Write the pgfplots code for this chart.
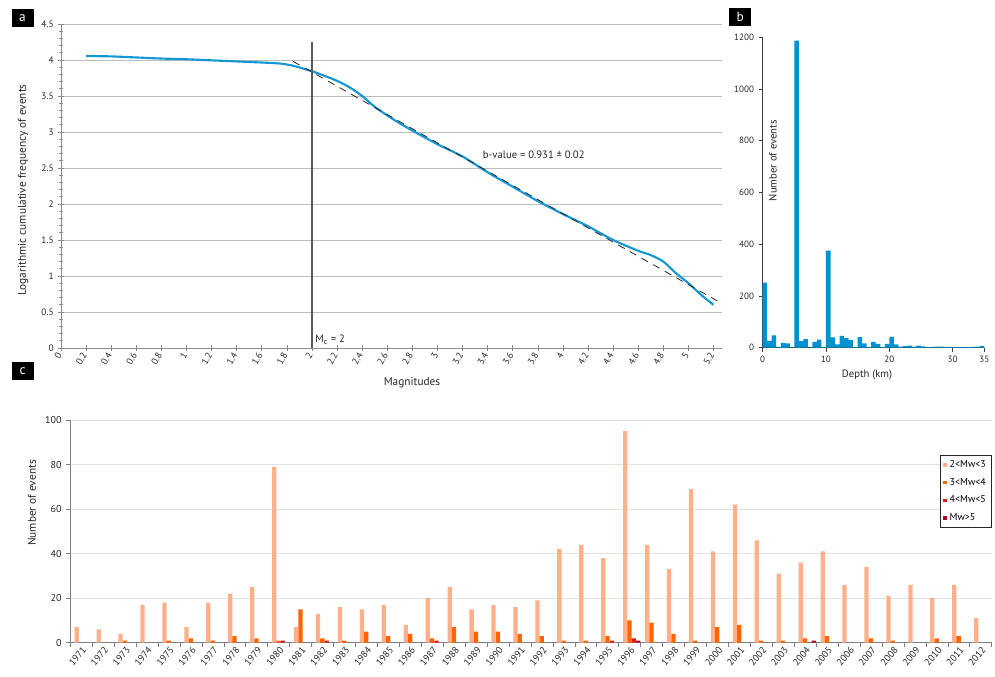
\documentclass[border=0pt]{standalone}
\usepackage{fontspec}
\setmainfont{PT Sans}
\usepackage{pgfplots}
\pgfplotsset{compat=1.18}
\definecolor{cblue}{RGB}{20,152,212}
\definecolor{cbar}{RGB}{0,146,208}
\definecolor{mlight}{RGB}{253,176,138}
\definecolor{morange}{RGB}{255,100,0}
\definecolor{mred}{RGB}{226,24,32}
\definecolor{mdark}{RGB}{176,0,40}
\definecolor{gridg}{RGB}{188,188,188}
\definecolor{gridl}{RGB}{226,226,226}
\begin{document}
\begin{tikzpicture}
\useasboundingbox (0,0) rectangle (746.25pt,507.75pt);
\pgfplotsset{every axis/.append style={
  /pgf/number format/assume math mode=true,
  /pgf/number format/1000 sep={},
  tick label style={font=\fontsize{7}{8}\selectfont, text=black!85},
}}
% ---------------- panel a
\begin{axis}[
  scale only axis, width=495.5pt, height=243pt,
  anchor=south west, at={(45.75pt,246.75pt)},
  xmin=0, xmax=5.265, ymin=0, ymax=4.5,
  axis x line*=bottom, axis y line*=left,
  axis line style={draw=black!45, line width=0.7pt},
  xtick={0,0.2,0.4,0.6,0.8,1,1.2,1.4,1.6,1.8,2,2.2,2.4,2.6,2.8,3,3.2,3.4,3.6,3.8,4,4.2,4.4,4.6,4.8,5,5.2},
  xticklabels={0,0.2,0.4,0.6,0.8,1,1.2,1.4,1.6,1.8,2,2.2,2.4,2.6,2.8,3,3.2,3.4,3.6,3.8,4,4.2,4.4,4.6,4.8,5,5.2},
  ytick={0,0.5,1,1.5,2,2.5,3,3.5,4,4.5},
  yticklabels={0,0.5,1,1.5,2,2.5,3,3.5,4,4.5},
  minor y tick num=4,
  tick align=center, major tick length=4pt, minor tick length=3pt,
  tick style={draw=black!45, line width=0.5pt},
  ymajorgrids, major grid style={draw=gridg, line width=0.7pt},
  x tick label style={rotate=60, anchor=east, xshift=1pt},
  clip=false,
]
\addplot[cblue, line width=1.6pt, smooth, tension=0.5] coordinates {
(0.2,4.055) (0.4,4.05) (0.6,4.035) (0.8,4.02) (1.0,4.01) (1.2,3.995) (1.4,3.98) (1.6,3.965)
(1.75,3.95) (1.85,3.92) (1.95,3.87) (2.0,3.845) (2.1,3.78) (2.2,3.71) (2.3,3.62) (2.4,3.50)
(2.5,3.35) (2.6,3.23) (2.7,3.12) (2.8,3.02) (3.0,2.83) (3.2,2.66) (3.4,2.44) (3.6,2.24)
(3.8,2.04) (4.0,1.86) (4.2,1.69) (4.4,1.50) (4.6,1.35) (4.7,1.29) (4.8,1.20) (4.9,1.04)
(5.0,0.90) (5.1,0.74) (5.2,0.60)};
\addplot[black!85, line width=0.6pt, dash pattern=on 5.5pt off 4.5pt] coordinates {(1.85,3.98) (5.265,0.62)};
\addplot[black!65, line width=1.1pt] coordinates {(2,0) (2,4.25)};
\node[anchor=base west, inner sep=0pt, font=\fontsize{8}{9}\selectfont, text=black!85] at (axis cs:2.025,0.07) {M\textsubscript{c} = 2};
\node[anchor=west, inner sep=0pt, font=\fontsize{8}{9}\selectfont, text=black!85] at (axis cs:3.36,2.69) {b-value = 0.931 ± 0.02};
\end{axis}
% ---------------- panel b
\begin{axis}[
  scale only axis, width=166.2pt, height=232.8pt,
  anchor=south west, at={(572pt,246.97pt)},
  xmin=0, xmax=35, ymin=0, ymax=1200,
  axis x line*=bottom, axis y line*=left,
  axis line style={draw=black!75, line width=0.6pt},
  xtick={0,10,20,30,35}, ytick={0,200,400,600,800,1000,1200},
  tick align=outside, major tick length=3pt,
  tick style={draw=black!75, line width=0.5pt},
  tick label style={font=\fontsize{6.8}{7.5}\selectfont},
  clip=false,
]
\addplot[ybar interval, fill=cbar, draw=none] coordinates {
(0,252) (0.7143,26) (1.4286,48) (2.1429,3) (2.8571,19) (3.5714,17) (4.2857,1)
(5,1187) (5.7143,25) (6.4286,33) (7.1429,1) (7.8571,23) (8.5714,31) (9.2857,2)
(10,375) (10.7143,40) (11.4286,13) (12.1429,46) (12.8571,37) (13.5714,29) (14.2857,2)
(15,41) (15.7143,17) (16.4286,2) (17.1429,23) (17.8571,15) (18.5714,2) (19.2857,15)
(20,42) (20.7143,13) (21.4286,4) (22.1429,6) (22.8571,8) (23.5714,4) (24.2857,8)
(25,5) (25.7143,2) (26.4286,3) (27.1429,4) (27.8571,4) (28.5714,3) (29.2857,3)
(30,3) (30.7143,2) (31.4286,2) (32.1429,2) (32.8571,3) (33.5714,4) (34.2857,7) (35,7)};
\node[rotate=90, font=\fontsize{8}{9}\selectfont, text=black!85] at (axis cs:1.63,723) {Number of events};
\end{axis}
% ---------------- panel c
\begin{axis}[
  scale only axis, width=691.1pt, height=167pt,
  anchor=south west, at={(52.7pt,25.7pt)},
  xmin=-0.5, xmax=41.5, ymin=0, ymax=100,
  axis x line*=bottom, axis y line*=left,
  axis line style={draw=black!50, line width=0.6pt},
  xtick={-0.5,0.5,...,41.5}, xticklabels={},
  extra x ticks={0,1,2,3,4,5,6,7,8,9,10,11,12,13,14,15,16,17,18,19,20,21,22,23,24,25,26,27,28,29,30,31,32,33,34,35,36,37,38,39,40,41},
  extra x tick labels={1971,1972,1973,1974,1975,1976,1977,1978,1979,1980,1981,1982,1983,1984,1985,1986,1987,1988,1989,1990,1991,1992,1993,1994,1995,1996,1997,1998,1999,2000,2001,2002,2003,2004,2005,2006,2007,2008,2009,2010,2011,2012},
  extra x tick style={major tick length=0pt, tick label style={rotate=50, anchor=north east, inner sep=1.5pt, font=\fontsize{7.2}{8}\selectfont}},
  ytick={0,20,40,60,80,100},
  ymajorgrids, major grid style={draw=gridl, line width=0.8pt},
  tick align=outside, major tick length=3pt,
  tick style={draw=black!50, line width=0.5pt},
  tick label style={font=\fontsize{7.5}{8}\selectfont},
  legend style={at={(1,0.843)}, anchor=north east, draw=black!85, line width=0.8pt, fill=white,
    font=\fontsize{7.5}{8}\selectfont, inner xsep=2pt, inner ysep=1.5pt, row sep=2.5pt},
  legend cell align=left,
]
\addplot[ybar, bar width=3.2pt, bar shift=-3.4pt, fill=mlight, draw=none,
  legend image code/.code={\fill[mlight] (0pt,-1.3pt) rectangle (2.6pt,1.3pt);}] coordinates {
(0,7) (1,6) (2,4) (3,17) (4,18) (5,7) (6,18) (7,22) (8,25) (9,79) (10,7) (11,13) (12,16) (13,15)
(14,17) (15,8) (16,20) (17,25) (18,15) (19,17) (20,16) (21,19) (22,42) (23,44) (24,38) (25,95)
(26,44) (27,33) (28,69) (29,41) (30,62) (31,46) (32,31) (33,36) (34,41) (35,26) (36,34) (37,21)
(38,26) (39,20) (40,26) (41,11)};
\addlegendentry{2<Mw<3}
\addplot[ybar, bar width=3.2pt, bar shift=-0.15pt, fill=morange, draw=none,
  legend image code/.code={\fill[morange] (0pt,-1.3pt) rectangle (2.6pt,1.3pt);}] coordinates {
(2,1) (4,1) (5,2) (6,1) (7,3) (8,2) (9,1) (10,15) (11,2) (12,1) (13,5) (14,3) (15,4) (16,2)
(17,7) (18,5) (19,5) (20,4) (21,3) (22,1) (23,1) (24,3) (25,10) (26,9) (27,4) (28,1) (29,7)
(30,8) (31,1) (32,1) (33,2) (34,3) (36,2) (37,1) (39,2) (40,3)};
\addlegendentry{3<Mw<4}
\addplot[ybar, bar width=3.2pt, bar shift=3.1pt, fill=mred, draw=none,
  legend image code/.code={\fill[mred] (0pt,-1.3pt) rectangle (2.6pt,1.3pt);}] coordinates {
(9,1) (11,1) (16,1) (24,1) (25,2)};
\addlegendentry{4<Mw<5}
\addplot[ybar, bar width=3.2pt, bar shift=6.3pt, fill=mdark, draw=none,
  legend image code/.code={\fill[mdark] (0pt,-1.3pt) rectangle (2.6pt,1.3pt);}] coordinates {
(25,1) (33,1)};
\addlegendentry{Mw>5}
\end{axis}
% ---------------- labels
\node[font=\fontsize{8.5}{9}\selectfont, text=black!85] at (309pt,220.5pt) {Magnitudes};
\node[font=\fontsize{8}{9}\selectfont, text=black!85] at (650.25pt,226.5pt) {Depth (km)};
\node[rotate=90, font=\fontsize{8.5}{9}\selectfont, text=black!85] at (17.25pt,365.25pt) {Logarithmic cumulative frequency of events};
\node[rotate=90, font=\fontsize{8.5}{9}\selectfont, text=black!85] at (24pt,130.5pt) {Number of events};
\foreach \lab/\px/\py in {a/16.9pt/494pt, b/555.2pt/495pt, c/16.9pt/229.5pt}{
  \node[fill=black, text=white, minimum width=16.5pt, minimum height=13.5pt, inner sep=0pt,
        font=\fontsize{10}{10}\selectfont] at (\px,\py) {\lab};
}
\end{tikzpicture}
\end{document}
